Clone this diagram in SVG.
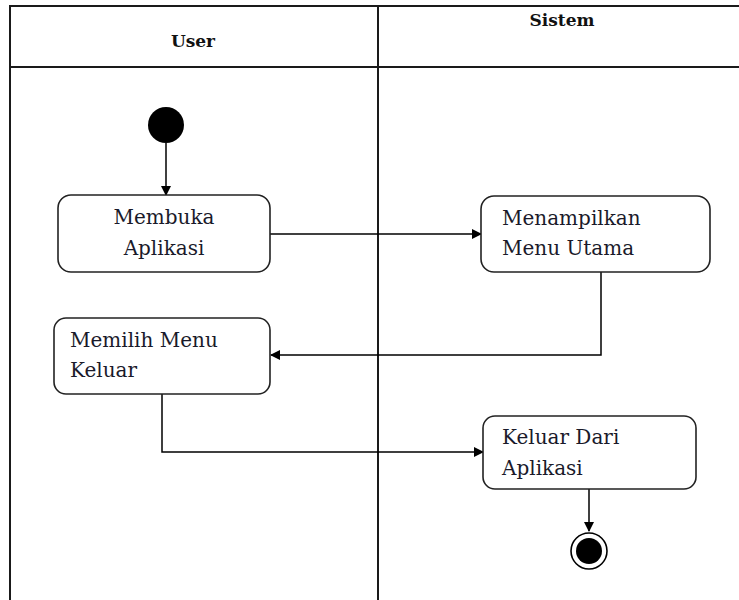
<svg xmlns="http://www.w3.org/2000/svg" width="739" height="600" viewBox="0 0 739 600">
<style>
.lane{fill:none;stroke:#1a1a1a;stroke-width:2}
.node{fill:#fff;stroke:#222;stroke-width:1.6}
.t{font-family:"DejaVu Serif","Liberation Serif",serif;font-size:20px;fill:#1a1a2a}
.h{font-family:"DejaVu Serif","Liberation Serif",serif;font-size:17px;font-weight:bold;fill:#111}
.c{fill:none;stroke:#000;stroke-width:1.5}
</style>
<defs>
<marker id="arr" markerWidth="10" markerHeight="10" refX="9" refY="5" orient="auto" markerUnits="userSpaceOnUse">
<path d="M0,0 L10,5 L0,10 Z" fill="#000"/>
</marker>
</defs>
<rect width="739" height="600" fill="#fff"/>
<g id="lanes">
<path class="lane" d="M10,601 V6 H739"/>
<line class="lane" x1="10" y1="67" x2="739" y2="67"/>
<line class="lane" x1="378" y1="6" x2="378" y2="601"/>
<text class="h" x="193" y="47" text-anchor="middle">User</text>
<text class="h" x="562" y="26" text-anchor="middle">Sistem</text>
</g>
<g id="connectors">
<line class="c" x1="166" y1="143" x2="166" y2="195" marker-end="url(#arr)"/>
<line class="c" x1="270" y1="234" x2="481" y2="234" marker-end="url(#arr)"/>
<polyline class="c" points="601,272 601,355 271,355" marker-end="url(#arr)"/>
<polyline class="c" points="162,394 162,452 483,452" marker-end="url(#arr)"/>
<line class="c" x1="589" y1="489" x2="589" y2="531" marker-end="url(#arr)"/>
</g>
<g id="start">
<circle cx="166" cy="125" r="18" fill="#000"/>
</g>
<g id="membuka">
<rect class="node" x="58" y="195" width="212" height="77" rx="13"/>
<text class="t" x="164" y="224" text-anchor="middle">Membuka</text>
<text class="t" x="164" y="255" text-anchor="middle">Aplikasi</text>
</g>
<g id="menampilkan">
<rect class="node" x="481" y="196" width="229" height="76" rx="13"/>
<text class="t" x="502" y="225">Menampilkan</text>
<text class="t" x="502" y="255">Menu Utama</text>
</g>
<g id="memilih">
<rect class="node" x="54" y="318" width="216" height="76" rx="12"/>
<text class="t" x="70" y="347">Memilih Menu</text>
<text class="t" x="70" y="377">Keluar</text>
</g>
<g id="keluar">
<rect class="node" x="483" y="416" width="213" height="73" rx="12"/>
<text class="t" x="502" y="444">Keluar Dari</text>
<text class="t" x="502" y="475">Aplikasi</text>
</g>
<g id="end">
<circle cx="589" cy="551" r="18" fill="#fff" stroke="#000" stroke-width="1.6"/>
<circle cx="589" cy="551" r="13" fill="#000"/>
</g>
</svg>
